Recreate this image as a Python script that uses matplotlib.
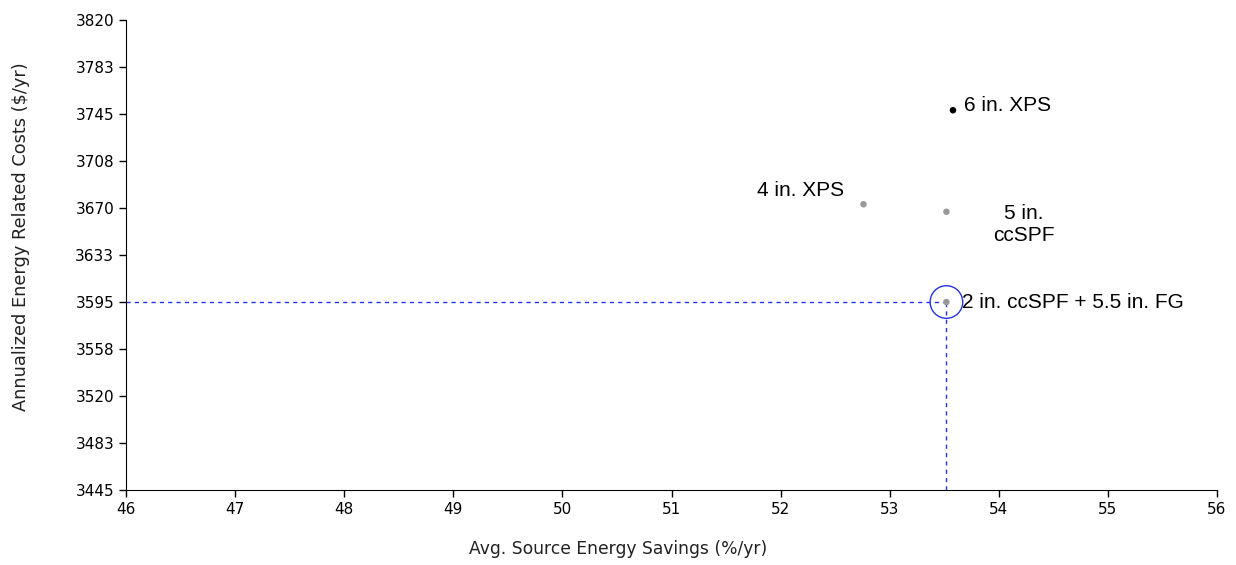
import numpy as np
import matplotlib.pyplot as plt

# options (x = avg source energy savings, y = annualized cost)
names = ['6 in. XPS', '4 in. XPS', '5 in.\nccSPF', '2 in. ccSPF + 5.5 in. FG']
savings = [53.58, 52.76, 53.52, 53.52]
costs = [3748, 3673, 3667, 3595]
colors = ['black', '#999999', '#999999', '#999999']

y_ticks = [3445, 3482.5, 3520, 3557.5, 3595, 3632.5, 3670, 3707.5, 3745, 3782.5, 3820]
y_labels = ['3445', '3483', '3520', '3558', '3595', '3633', '3670', '3708', '3745', '3783', '3820']
x_ticks = [46, 47, 48, 49, 50, 51, 52, 53, 54, 55, 56]

# selected option
sel_x = 53.52
sel_y = 3595

plt.rcParams['font.family'] = ['DejaVu Sans']

fig = plt.figure(figsize=(12.36, 5.65), dpi=100)
ax = fig.add_axes([0.102, 0.1327, 0.8826, 0.8319])

ax.scatter(savings, costs, s=22, c=colors, zorder=3, linewidths=0)

# dashed guides to the selected point
ax.plot([46, sel_x], [sel_y, sel_y], color='#2233ee', ls=(0, (3, 3)), lw=1)
ax.plot([sel_x, sel_x], [3445, sel_y], color='#2233ee', ls=(0, (3, 3)), lw=1)
ax.scatter([sel_x], [sel_y], s=550, facecolors='none', edgecolors='#2233ee', linewidths=1, zorder=4)

offsets = [(8, 3.6, 'left'), (-13.7, 10, 'right'), (56, -9.4, 'center'), (11.5, 0, 'left')]
for n, x, y, (dx, dy, ha) in zip(names, savings, costs, offsets):
    ax.annotate(n, (x, y), xytext=(dx, dy), textcoords='offset points',
                ha=ha, va='center', multialignment='center',
                fontsize=15, family='Liberation Sans')

ax.set_xlim(46, 56)
ax.set_ylim(3445, 3820)
ax.set_xticks(x_ticks)
ax.set_yticks(y_ticks)
ax.set_yticklabels(y_labels)
ax.tick_params(labelsize=11, length=5, width=1, color='black')
for s in ['top', 'right']:
    ax.spines[s].set_visible(False)

ax.set_xlabel('Avg. Source Energy Savings (%/yr)', fontsize=12.3, color='#222222')
ax.set_ylabel('Annualized Energy Related Costs ($/yr)', fontsize=12.8, color='#222222')
ax.xaxis.set_label_coords(0.451, -0.1255)
ax.yaxis.set_label_coords(-0.096, 0.54)
ax.xaxis.label.set_va('center')
ax.yaxis.label.set_va('center')

plt.savefig('out.png', dpi=100)
